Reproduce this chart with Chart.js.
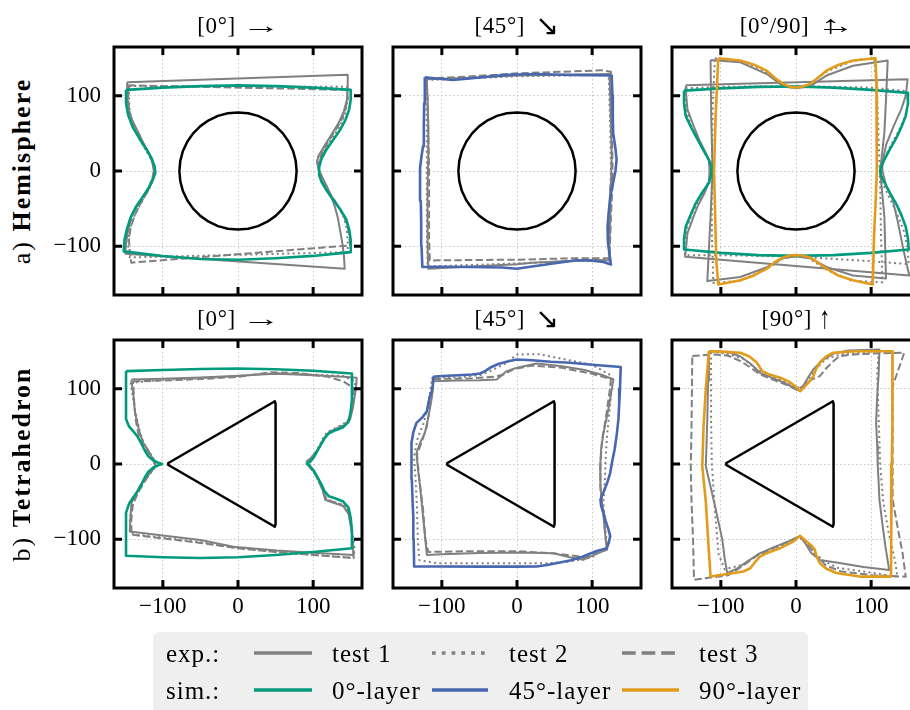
<!DOCTYPE html>
<html>
<head>
<meta charset="utf-8">
<script src="https://cdn.jsdelivr.net/npm/chart.js@4.4.1/dist/chart.umd.min.js"></script>
<style>
  html, body { margin: 0; padding: 0; background: #fff; }
  body { position: relative; width: 910px; height: 710px; overflow: hidden;
         font-family: "Liberation Serif", "DejaVu Serif", serif; color: #000; }
  canvas { position: absolute; }
  .ttl { position: absolute; transform: translate(-50%, -50%); font-size: 23px; white-space: nowrap; z-index: 2; letter-spacing: 0.6px; }
  .arr { display: inline-block; letter-spacing: 0; }
  .arr.h { transform: scaleX(1.7); margin-left: 14px; margin-right: 6px; }
  .arr.d { font-family: "DejaVu Sans", sans-serif; font-size: 21px; transform: scale(1.35); margin-left: 13px; margin-right: 4px; }
  .arr.u { transform: scaleY(1.35); margin-left: 7px; }
  .arr.x { position: relative; transform: scaleX(1.7); margin-left: 14px; margin-right: 6px; }
  .arr.x .ov { position: absolute; left: 3px; top: -1px; transform: scaleY(1.1); }
  .row { position: absolute; transform: translate(-50%, -50%) rotate(-90deg); font-size: 26px; white-space: nowrap; letter-spacing: 2px; z-index: 2; }
  .legend { position: absolute; left: 153px; top: 632px; width: 655px; height: 100px; background: #efefef; border-radius: 6px; z-index: 1; }
  .lt { position: absolute; transform: translateY(-50%); font-size: 25px; white-space: nowrap; line-height: 1; letter-spacing: 1px; z-index: 2; }
  svg.lg { position: absolute; left: 0; top: 0; z-index: 2; }
</style>
</head>
<body>
<script>
// ---- axis ticks -------------------------------------------------------
const tickValues = [-100, 0, 100];
const axisMin = -165, axisMax = 165;

// ---- hole outlines ----------------------------------------------------
const holeCircle = [[78,0],[76.8,13.5],[73.3,26.7],[67.5,39],[59.7,50.1],[50.1,59.7],[39,67.5],[26.7,73.3],[13.5,76.8],[0,78],
  [-13.5,76.8],[-26.7,73.3],[-39,67.5],[-50.1,59.7],[-59.7,50.1],[-67.5,39],[-73.3,26.7],[-76.8,13.5],[-78,0],
  [-76.8,-13.5],[-73.3,-26.7],[-67.5,-39],[-59.7,-50.1],[-50.1,-59.7],[-39,-67.5],[-26.7,-73.3],[-13.5,-76.8],[0,-78],
  [13.5,-76.8],[26.7,-73.3],[39,-67.5],[50.1,-59.7],[59.7,-50.1],[67.5,-39],[73.3,-26.7],[76.8,-13.5],[78,0]];
const holeTriangle = [[-94,0],[-91.5,2],[45.7,81.5],[49,83.5],[50,80],[50,-80],[49,-83.5],[45.7,-81.5],[-91.5,-2],[-94,0]];

// ---- a) hemisphere, [0°] ----------------------------------------------
const hemi0_sim0 = [[-149,108],[-100,111],[-50,113],[0,114],[50,113],[100,111],[150,108],[150,95],[148,82],[143,68],[136,55],[127,42],[118,29],[111,16],[108,5],[108,-5],[111,-14],[118,-26],[127,-39],[136,-51],[144,-64],[148,-78],[150,-92],[150,-108],[100,-113],[50,-116],[0,-118],[-50,-117],[-100,-113],[-152,-107],[-151,-92],[-148,-78],[-143,-62],[-136,-48],[-127,-35],[-119,-23],[-113,-11],[-110,-2],[-111,6],[-115,17],[-122,29],[-131,43],[-140,58],[-146,74],[-149,90],[-149,108]];
const hemi0_test1 = [[-147.5,118],[146,128],[146,110],[145,95],[141,80],[134,64],[124,48],[114,32],[107,20],[105,12],[107,3],[112,-8],[118,-20],[124,-33],[129,-48],[133,-63],[136,-80],[139,-97],[141,-113],[142,-130],[-150,-110],[-149,-98],[-147,-83],[-142,-61],[-135,-48],[-127,-35],[-119,-22],[-114,-10],[-112,0],[-114,12],[-119,24],[-126,37],[-133,52],[-140,66],[-145,78],[-147,95],[-147.5,118]];
const hemi0_test2 = [[-145,113],[145,112],[146,95],[143,78],[136,60],[125,44],[115,28],[109,14],[107,3],[109,-8],[115,-20],[124,-33],[133,-47],[141,-62],[145,-78],[146,-95],[146,-108],[-144,-115],[-146,-100],[-145,-84],[-141,-66],[-133,-50],[-124,-34],[-116,-20],[-112,-6],[-112,4],[-116,16],[-124,30],[-133,46],[-140,62],[-144,78],[-145,95],[-145,113]];
const hemi0_test3 = [[-146,114],[145,108],[146,96],[143,82],[137,66],[127,50],[117,34],[110,20],[107,8],[108,-3],[112,-14],[119,-26],[128,-38],[137,-52],[144,-68],[148,-84],[149,-99],[-142,-122],[-144,-108],[-145,-92],[-143,-76],[-137,-58],[-128,-40],[-119,-25],[-113,-11],[-111,0],[-113,11],[-118,23],[-126,37],[-134,52],[-141,67],[-145,82],[-146,98],[-146,114]];

// ---- a) hemisphere, [45°] ---------------------------------------------
const hemi45_sim45 = [[-122.7,124.6],[-100,122.5],[-85,121],[-49,124.5],[-18,127.6],[0,128.5],[26,129],[70.7,127.7],[126,127],[127,100],[127.5,70],[128,50],[131,30],[132.5,15],[131,0],[128,-15],[124,-35],[122,-55],[120.5,-75],[121,-95],[123,-110],[125,-124.5],[115,-121],[100,-119.5],[79.6,-118.8],[48,-123],[20,-127],[0,-130],[-20,-128.5],[-62.7,-127.7],[-100,-127.5],[-126,-127.7],[-127,-100],[-127.5,-70],[-128,-40],[-129,-15],[-129,4],[-127,20],[-125,33],[-124,60],[-123.5,90],[-122.7,124.6]];
const hemi45_test1 = [[-120,122],[-60,124],[0,127],[60,128],[123,129],[124,100],[125,60],[126,20],[125,-20],[124,-60],[123,-100],[123,-119],[100,-118],[60,-120],[20,-122],[0,-124],[-40,-126],[-80,-128],[-118,-130],[-119,-100],[-119,-60],[-119,-20],[-118,20],[-118,60],[-119,95],[-120,122]];
const hemi45_test2 = [[-121,121],[0,126],[122,128],[124,60],[125,0],[123,-60],[122,-118],[0,-123],[-119,-127],[-120,-60],[-120,0],[-120,60],[-121,121]];
const hemi45_test3 = [[-121,123],[-60,126],[0,130],[60,132],[114,134],[125,132],[126,100],[126,60],[127,20],[127,-20],[125,-60],[124,-90],[123,-116],[80,-116],[40,-117],[0,-118],[-60,-118.5],[-116,-119],[-117,-90],[-117,-50],[-117,0],[-118,50],[-119,95],[-121,123]];

// ---- a) hemisphere, [0°/90] -------------------------------------------
const hemiX_sim0 = [[-149,107],[-100,110],[-50,112],[0,112.5],[50,111],[100,108],[148.5,104],[149,90],[146,73],[140,58],[133,43],[125,29],[117.6,15],[113,5],[112,0],[113,-5],[117.6,-15],[125,-29],[133,-43],[140,-58],[146,-74],[149,-90],[150,-104.5],[100,-109],[50,-112],[0,-113],[-50,-112],[-100,-109],[-149,-104.5],[-149,-90],[-146.7,-74],[-140,-58],[-133.5,-43],[-125,-29],[-116,-16],[-113,-6],[-112,0],[-113,6],[-116,15],[-124,29],[-131,42],[-139,57],[-146.7,73],[-149,90],[-149,107]];
const hemiX_sim90 = [[-103.5,150],[-74,147],[-55,141],[-39,133.5],[-27,123],[-16.7,115.6],[-8,112],[0,111],[8,112],[18.5,115.6],[28,123],[40.5,133.5],[56,141],[75.8,147],[105.7,150],[107,120],[107.5,73],[107.5,0],[106,-40],[104,-83],[102,-151],[75.8,-145.5],[56,-139],[40.5,-130],[28,-121],[18.5,-115],[8,-112.5],[0,-112],[-8,-112.5],[-16.7,-115],[-28,-121],[-39,-130],[-56,-139],[-74,-145.5],[-103.5,-151],[-106,-120],[-107,-83],[-109,0],[-107,73],[-105,115],[-103.5,150]];
const hemiX_test1_wide = [[-146.7,114],[148.5,122],[146,100],[140,82],[130,60],[120,35],[115,12],[115,0],[120,-20],[128.6,-38],[136,-70],[143,-105],[150.7,-139],[-147.6,-114],[-146,-100],[-144.5,-83],[-138,-65],[-131,-47],[-122,-30],[-116,-15],[-115,0],[-116,15],[-122,28],[-129,42],[-137,62],[-144.5,82],[-146,100],[-146.7,114]];
const hemiX_test1_tall = [[-113.7,147.8],[-74,144.6],[-38.8,129],[-16.7,112.5],[0,110],[18.5,112.5],[40.5,127],[75.8,140],[122,146.9],[120,100],[117.6,51],[112,0],[117.6,-61],[119.8,-143],[75.8,-139],[40.5,-127.7],[18.5,-116],[0,-113.4],[-16.7,-116],[-38.8,-128],[-74,-141],[-118,-146.4],[-113.7,-60.7],[-111,0],[-112.8,73],[-113.7,147.8]];
const hemiX_test2_wide = [[-147,110],[-100,112],[0,113],[100,111],[148,106],[149,90],[145,72],[136,52],[125,32],[116,14],[112,0],[115,-16],[124,-35],[134,-56],[143,-78],[148,-100],[150,-124],[100,-120],[0,-114],[-100,-112],[-148,-112],[-148,-95],[-146,-78],[-139,-58],[-130,-40],[-120,-22],[-114,-8],[-113,2],[-117,16],[-126,33],[-136,52],[-143,70],[-147,90],[-147,110]];
const hemiX_test2_tall = [[-108,150],[-74,146],[-40,132],[-17,115],[0,111],[17,115],[40,132],[74,146],[104,151],[108,100],[110,40],[112,-20],[113,-80],[115,-148],[74,-146],[40,-131],[17,-116],[0,-113],[-17,-116],[-40,-131],[-74,-146],[-110,-149],[-112,-80],[-112,0],[-111,80],[-108,150]];

// ---- b) tetrahedron, [0°] ---------------------------------------------
const tetra0_sim0 = [[-149,123.6],[-100,125],[-50,126.5],[0,127],[50,126],[100,124],[151.6,120.4],[151.6,100],[151.6,86],[150,70],[147,56],[140,49],[130,45],[121,41],[115,34],[111,27],[106,18],[101,9],[96,3],[91.5,0.5],[96,-3],[101,-9],[106,-18],[111,-27],[115,-36],[121,-43],[130,-46],[140,-50],[147,-58],[150,-72],[151.6,-88],[151.6,-100],[151.6,-112],[100,-117],[50,-121],[0,-124],[-50,-125],[-100,-124],[-149,-122],[-149,-100],[-149,-80],[-149,-65],[-145,-53],[-139,-44],[-134,-37],[-129,-28],[-124,-18],[-119,-10],[-113,-5],[-107,-2],[-101,0],[-107,2],[-113,5],[-119,10],[-124,18],[-129,28],[-134,37],[-139,43],[-145,50],[-149,60],[-149,80],[-149,100],[-149,123.6]];
const tetra0_test1 = [[-141.8,112.4],[-100,113.5],[-50,115],[-6,117],[30,119],[51.5,120],[100,118],[140,116],[158,114.7],[157,100],[156,94.7],[153,75],[149,59],[142,52],[132,47],[122,43],[116,36],[110,26],[104,16],[97,8],[91.5,3.5],[95,-3],[101,-10],[107,-20],[112,-32],[116,-47.5],[128,-52],[140,-56],[147,-66],[151.6,-92],[153,-108],[153.8,-121],[100,-118],[51.5,-115],[-6,-110],[-50,-101],[-100,-95],[-144,-89.8],[-143,-70],[-141.8,-52],[-136,-40],[-130.7,-29.8],[-123,-19],[-115,-9.8],[-110,-3],[-112,4],[-115,10],[-120,19],[-126,28],[-131,42],[-134,55],[-137,68],[-139,90],[-141.8,112.4]];
const tetra0_test2 = [[-143,108],[-100,112],[-50,114],[0,117],[50,121],[100,119],[140,117],[156,110],[155,95],[152,75],[148,60],[140,53],[128,47],[118,42],[112,32],[106,20],[99,10],[93,3],[96,-4],[102,-13],[108,-24],[113,-36],[118,-47],[130,-51],[142,-55],[148,-65],[152,-90],[155,-112],[154,-125],[100,-121],[50,-117],[0,-112],[-50,-104],[-100,-98],[-143,-93],[-144,-75],[-142,-58],[-137,-45],[-131,-33],[-124,-22],[-116,-12],[-111,-5],[-110,3],[-114,10],[-121,20],[-127,32],[-131,45],[-134,58],[-137,72],[-140,90],[-143,108]];
const tetra0_test3 = [[-139.6,110],[-100,111],[-50,113],[0,116],[42.7,122],[80,121],[120,116],[140,110],[153.8,101],[153,85],[150,65],[145,55],[133,48],[122,43],[115,34],[108,22],[101,12],[94,4],[92,0],[96,-5],[103,-14],[109,-26],[114,-39],[119,-48],[132,-52],[143,-57],[149,-70],[152,-95],[153.8,-125],[100,-121],[50,-117],[0,-112],[-50,-105],[-100,-99],[-141.8,-94],[-142,-75],[-140,-55],[-134,-40],[-127,-28],[-119,-15],[-113,-6],[-111,2],[-115,10],[-121,18],[-127,28],[-133,42],[-136,58],[-138,80],[-139.6,110]];

// ---- b) tetrahedron, [45°] --------------------------------------------
const tetra45_sim45 = [[-111.6,116],[-100,117],[-85,117.8],[-60,119],[-49,120.4],[-42,124],[-36,128],[-25,133],[-10,137],[0,139],[20,138],[45,136],[70.7,134.7],[100,132],[138,129],[137,100],[136,80],[135,60],[133,41],[130,20],[126,0],[124,-12],[120,-25],[115,-38],[111,-47.5],[112,-56],[115,-65],[118,-76],[122,-88],[124,-96],[122,-105],[119.6,-112],[105,-116],[88,-123],[72,-128],[57,-131],[40,-134.5],[26,-136.4],[0,-136.5],[-50,-136.5],[-100,-136.4],[-136.9,-136.4],[-137.5,-100],[-138,-70],[-139,-47.5],[-140,-20],[-140.4,-3],[-140.4,15],[-140.4,28],[-138,42],[-133.8,54.7],[-126,62],[-120,70],[-118,80],[-116,90],[-113.8,95],[-112,105],[-111.6,116]];
const tetra45_test1 = [[-111.6,110],[-80,111],[-50,111.5],[-27,112.4],[-20,118],[-13.8,123.6],[0,128],[26,133.8],[60,130],[90,125],[115,118],[128.4,112.4],[126,100],[124,85.8],[120,65],[115,41],[112,20],[110.7,-3],[111,-30],[113,-50],[115,-65],[116,-80],[118,-100],[119.6,-114],[105,-120],[88,-127.6],[70,-124],[48.4,-118.7],[20,-118],[0,-117.8],[-50,-118.5],[-100,-120],[-120,-121],[-122,-100],[-125,-70],[-129,-29.8],[-132,-5],[-133.8,14.7],[-128,30],[-122.7,41],[-118,62],[-113.8,85.8],[-112,100],[-111.6,110]];
const tetra45_test2 = [[-113,115],[-80,115],[-50,118],[-35,124],[-15,134],[0,145.8],[30,146],[60,140],[100,132],[125,118],[126,100],[123,70],[120,40],[118,10],[117,-20],[115,-50],[117,-80],[120,-110],[100,-124],[70,-130],[40,-132],[0,-132],[-60,-132],[-107,-132],[-130,-128],[-132,-100],[-133,-60],[-135,-20],[-137,10],[-132,35],[-124,55],[-118,80],[-115,100],[-113,115]];
const tetra45_test3 = [[-111,113],[-60,114],[-30,116],[-18,119],[-5,126],[20,131],[60,128],[100,120],[125,113],[123,95],[118,60],[113,30],[111,0],[111,-30],[113,-55],[116,-75],[118,-100],[120,-114],[90,-124],[50,-119],[0,-116],[-60,-116],[-118,-117],[-122,-100],[-125,-60],[-130,-20],[-133,12],[-126,32],[-120,50],[-116,75],[-113,95],[-111,113]];

// ---- b) tetrahedron, [90°] --------------------------------------------
const tetra90_sim90 = [[-115.9,150],[-100,149.5],[-74,148],[-62,143],[-52,134.7],[-45,123.6],[-35,119],[-21,114.7],[-10,110],[-1.3,103.6],[5.3,96.9],[10,101],[14,105.8],[20,112],[23,117],[27,127],[31.7,134.7],[40,143],[49,148],[80,150],[128.6,150],[128.5,100],[128,50],[127.5,0],[127,-50],[126.5,-100],[126.4,-149.8],[84.6,-149.8],[53.7,-145],[40,-139],[31.7,-132],[27,-122],[25,-114],[20,-108],[14,-103],[5.3,-95.6],[0,-100],[-5,-104],[-21,-112],[-35,-117],[-47.6,-123],[-55,-131],[-60.8,-138.7],[-70,-143],[-82.8,-145],[-113.7,-149.8],[-117,-100],[-120,-50],[-124.7,-3],[-123,50],[-120,100],[-115.9,150]];
const tetra90_test1 = [[-115.9,150],[-90,149],[-74,143],[-60,133],[-47.6,121],[-30,114],[-15,108],[1,99],[6,97],[12,108],[18,118],[23,125.8],[35,138],[50,147],[70,151],[111,152.4],[110,120],[108,90],[106.6,54.7],[108,25],[108.8,-3],[110,-25],[111,-47.5],[115,-80],[119,-110],[124,-141],[90,-137],[60,-132],[31.7,-127.6],[20,-118],[12,-105],[5.3,-96.4],[-10,-103],[-30,-111],[-47.6,-118.7],[-65,-130],[-80,-140],[-91.6,-145],[-95,-125],[-98,-101],[-108,-55],[-120,-3],[-118,60],[-117,110],[-115.9,150]];
const tetra90_test2 = [[-113,150],[-90,146],[-70,140],[-55,128],[-40,120],[-20,112],[0,101],[10,103],[18,115],[26,126],[40,140],[60,146],[110,150],[108,120],[110,60],[112,0],[116,-50],[123,-90],[132,-130],[135,-150],[90,-143],[55,-138],[35,-128],[22,-115],[10,-102],[4,-97],[-10,-104],[-30,-113],[-50,-120],[-70,-134],[-95,-140],[-103,-120],[-108,-60],[-112,0],[-113,60],[-113,110],[-113,150]];
const tetra90_test3 = [[-138,143.6],[-109,145.8],[-90,144],[-74,137],[-60,128],[-47.6,119],[-30,112],[-12,105],[1,99],[10,104],[20,112],[31.7,117],[40,127],[50,137],[58,143.6],[80,146],[102,147],[144,148],[136,125],[128.6,103.6],[128.6,50],[128.6,0],[128.6,-47.5],[135,-83],[141.8,-118.7],[146,-150],[102,-148],[60,-143],[40,-135],[25,-120],[14,-104],[5,-96],[-10,-103],[-30,-112],[-52,-122],[-70,-135],[-90,-148],[-135.7,-154],[-137,-100],[-139,-50],[-140,-3],[-139,50],[-138.5,100],[-138,143.6]];

// ---- styles -------------------------------------------------------------
const gray = '#808080';
const simColor = { layer0: '#009B7F', layer45: '#4767AF', layer90: '#E29C1C' };
const testDash = { test1: [], test2: [2, 3.3], test3: [7.4, 3.2] };
const fontFamily = '"Liberation Serif", "DejaVu Serif", serif';

// ---- layout (pixels) ----------------------------------------------------
const plotSize = 248;
const colZeroX = [238, 517, 796];
const rowZeroY = [171.3, 464.3];
const M = { left: 70, top: 10, right: 10, bottom: 40 };

const pts = arr => arr.map(([x, y]) => ({ x, y }));
function series(arr, color, width, dash) {
  return { data: pts(arr), showLine: true, borderColor: color, borderWidth: width,
           borderDash: dash || [], borderCapStyle: 'butt', borderJoinStyle: 'round',
           pointRadius: 0, pointHoverRadius: 0, tension: 0, fill: false };
}
const minusFmt = v => (v < 0 ? '\u2212' + Math.abs(v) : String(v));

// frame with inward ticks on all four sides
const framePlugin = {
  id: 'frame',
  afterDatasetsDraw(chart) {
    const { ctx, chartArea: a, scales: { x, y } } = chart;
    const L = 8;
    ctx.save();
    ctx.strokeStyle = '#000';
    ctx.lineWidth = 3;
    ctx.lineCap = 'butt';
    ctx.beginPath();
    tickValues.forEach(v => {
      const px = x.getPixelForValue(v), py = y.getPixelForValue(v);
      ctx.moveTo(px, a.top); ctx.lineTo(px, a.top + L);
      ctx.moveTo(px, a.bottom); ctx.lineTo(px, a.bottom - L);
      ctx.moveTo(a.left, py); ctx.lineTo(a.left + L, py);
      ctx.moveTo(a.right, py); ctx.lineTo(a.right - L, py);
    });
    ctx.stroke();
    ctx.strokeRect(a.left, a.top, a.right - a.left, a.bottom - a.top);
    ctx.restore();
  }
};

function axis(showLabels, isX) {
  return {
    type: 'linear', min: axisMin, max: axisMax,
    afterBuildTicks: s => { s.ticks = tickValues.map(v => ({ value: v })); },
    afterFit: s => {
      if (isX) s.height = M.bottom; else s.width = M.left;
      s.paddingTop = 0; s.paddingBottom = 0; s.paddingLeft = 0; s.paddingRight = 0;
    },
    grid: { color: '#c6c6c6', lineWidth: 1, drawTicks: false },
    border: { display: false, dash: [1.5, 2.5] },
    ticks: { display: showLabels, padding: isX ? 5 : 13, color: '#000',
             font: { family: fontFamily, size: 23 }, callback: minusFmt,
             maxRotation: 0, autoSkip: false }
  };
}

function makePanel(p) {
  const cv = document.createElement('canvas');
  const w = M.left + plotSize + M.right, h = M.top + plotSize + M.bottom;
  cv.width = w; cv.height = h;
  cv.style.left = (colZeroX[p.col] - plotSize / 2 - M.left) + 'px';
  cv.style.top = (rowZeroY[p.row] - plotSize / 2 - M.top) + 'px';
  document.body.appendChild(cv);

  const datasets = [];
  datasets.push(series(p.hole, '#000', 2.5));
  p.sims.forEach(([arr, key]) => datasets.push(series(arr, simColor[key], 2.6)));
  p.tests.forEach(([arr, key]) => datasets.push(series(arr, gray, 2, testDash[key])));

  new Chart(cv, {
    type: 'scatter',
    data: { datasets },
    options: {
      responsive: false, animation: false, events: [],
      layout: { padding: { top: M.top, right: M.right, left: 0, bottom: 0 } },
      plugins: { legend: { display: false }, tooltip: { enabled: false } },
      scales: { x: axis(p.row === 1, true), y: axis(p.col === 0, false) }
    },
    plugins: [framePlugin]
  });
}

const panels = [
  { col: 0, row: 0, hole: holeCircle, sims: [[hemi0_sim0, 'layer0']],
    tests: [[hemi0_test1, 'test1'], [hemi0_test2, 'test2'], [hemi0_test3, 'test3']] },
  { col: 1, row: 0, hole: holeCircle, sims: [[hemi45_sim45, 'layer45']],
    tests: [[hemi45_test1, 'test1'], [hemi45_test2, 'test2'], [hemi45_test3, 'test3']] },
  { col: 2, row: 0, hole: holeCircle, sims: [[hemiX_sim90, 'layer90'], [hemiX_sim0, 'layer0']],
    tests: [[hemiX_test1_tall, 'test1'], [hemiX_test1_wide, 'test1'], [hemiX_test2_tall, 'test2'], [hemiX_test2_wide, 'test2']] },
  { col: 0, row: 1, hole: holeTriangle, sims: [[tetra0_sim0, 'layer0']],
    tests: [[tetra0_test1, 'test1'], [tetra0_test2, 'test2'], [tetra0_test3, 'test3']] },
  { col: 1, row: 1, hole: holeTriangle, sims: [[tetra45_sim45, 'layer45']],
    tests: [[tetra45_test1, 'test1'], [tetra45_test2, 'test2'], [tetra45_test3, 'test3']] },
  { col: 2, row: 1, hole: holeTriangle, sims: [[tetra90_sim90, 'layer90']],
    tests: [[tetra90_test1, 'test1'], [tetra90_test2, 'test2'], [tetra90_test3, 'test3']] }
];
panels.forEach(makePanel);

// ---- panel titles and row labels ---------------------------------------
const panelTitles = [
  '[0°]<span class="arr h">→</span>',
  '[45°]<span class="arr d">↘</span>',
  '[0°/90]<span class="arr x">→<span class="ov">↑</span></span>',
  '[0°]<span class="arr h">→</span>',
  '[45°]<span class="arr d">↘</span>',
  '[90°]<span class="arr u">↑</span>'
];
panels.forEach((p, i) => {
  const d = document.createElement('div');
  d.className = 'ttl';
  d.innerHTML = panelTitles[i];
  d.style.left = colZeroX[p.col] + 'px';
  d.style.top = (rowZeroY[p.row] - plotSize / 2 - 21) + 'px';
  document.body.appendChild(d);
});
const rowLabels = ['a) <b>Hemisphere</b>', 'b) <b>Tetrahedron</b>'];
rowLabels.forEach((t, r) => {
  const d = document.createElement('div');
  d.className = 'row';
  d.innerHTML = t;
  d.style.left = '22px';
  d.style.top = rowZeroY[r] + 'px';
  document.body.appendChild(d);
});

// ---- legend ---------------------------------------------------------------
const legendRows = [
  { head: 'exp.:', y: 653, items: [['test 1', gray, testDash.test1], ['test 2', gray, [3.7, 6.1]], ['test 3', gray, [13.7, 5.9]]] },
  { head: 'sim.:', y: 690, items: [['0°-layer', simColor.layer0, []], ['45°-layer', simColor.layer45, []], ['90°-layer', simColor.layer90, []]] }
];
const legendCols = [{ x1: 254, x2: 312, tx: 332 }, { x1: 432, x2: 488, tx: 509 }, { x1: 622, x2: 679, tx: 699 }];
const box = document.createElement('div');
box.className = 'legend';
document.body.appendChild(box);
const NS = 'http://www.w3.org/2000/svg';
const svg = document.createElementNS(NS, 'svg');
svg.setAttribute('class', 'lg');
svg.setAttribute('width', 910); svg.setAttribute('height', 710);
document.body.appendChild(svg);
legendRows.forEach(r => {
  const h = document.createElement('span');
  h.className = 'lt'; h.textContent = r.head;
  h.style.left = '166px'; h.style.top = r.y + 'px';
  document.body.appendChild(h);
  r.items.forEach(([label, color, dash], i) => {
    const c = legendCols[i];
    const ln = document.createElementNS(NS, 'line');
    ln.setAttribute('x1', c.x1); ln.setAttribute('x2', c.x2);
    ln.setAttribute('y1', r.y); ln.setAttribute('y2', r.y);
    ln.setAttribute('stroke', color); ln.setAttribute('stroke-width', 3.7);
    if (dash.length) ln.setAttribute('stroke-dasharray', dash.join(' '));
    svg.appendChild(ln);
    const s = document.createElement('span');
    s.className = 'lt'; s.textContent = label;
    s.style.left = c.tx + 'px'; s.style.top = r.y + 'px';
    document.body.appendChild(s);
  });
});
</script>
</body>
</html>
